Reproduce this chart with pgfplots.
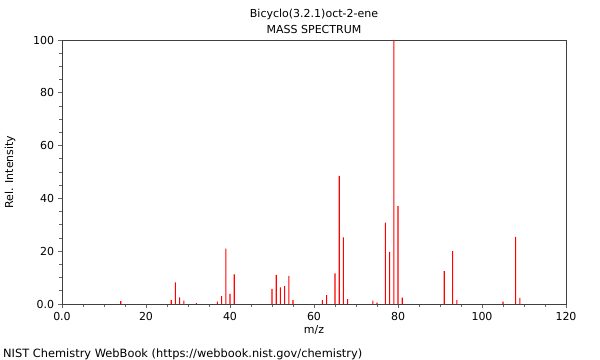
\documentclass[border=0pt]{standalone}
\usepackage{fontspec}
\setmainfont{DejaVu Sans}
\usepackage{pgfplots}
\pgfplotsset{compat=1.18}
\definecolor{specred}{RGB}{255,0,0}
\begin{document}
\fontsize{11bp}{13bp}\selectfont
\begin{tikzpicture}
\useasboundingbox (-62bp,-56bp) rectangle (538bp,304bp);
\begin{axis}[
  at={(0,0)}, anchor=south west,
  width=504bp, height=264bp, scale only axis,
  xmin=0, xmax=120, ymin=0, ymax=100,
  xtick={0,20,...,120}, xticklabels={0.0,20,40,60,80,100,120},
  ytick={0,20,...,100}, yticklabels={0.0,20,40,60,80,100},
  minor x tick num=3, minor y tick num=3,
  tick align=outside, tick pos=left,
  major tick length=4bp, minor tick length=2.5bp,
  axis line style={draw=black!75, line width=0.8bp},
  every tick/.style={draw=black!60, line width=0.8bp},
  tick label style={font=\fontsize{11bp}{13bp}\selectfont},
  /pgf/number format/assume math mode=true,
  xlabel={m/z}, ylabel={Rel. Intensity},
  label style={font=\fontsize{11bp}{13bp}\selectfont},
  xlabel style={at={(axis description cs:0.5,0)}, anchor=north, yshift=-18bp},
  ylabel style={at={(axis description cs:-0.103,0.5)}, anchor=center},
  ybar, bar width=1.1bp, bar shift=0pt,
]
\addplot[fill=specred, draw=none] coordinates {
(14,1.1) (26,1.5) (27,8.2) (28,2.5) (29,1.3) (32,0.3)
(37,0.9) (38,3.0) (39,21.0) (40,3.8) (41,11.2)
(50,5.7) (51,11.0) (52,6.3) (53,6.8) (54,10.7) (55,1.5)
(62,1.5) (63,3.4) (65,11.6) (66,48.5) (67,25.2) (68,1.8)
(74,1.3) (75,0.5) (77,30.8) (78,19.7) (79,100) (80,37.1) (81,2.4)
(91,12.5) (93,20.0) (94,1.5) (105,0.9) (108,25.4) (109,2.3)
};
\end{axis}
\node[anchor=base] at (252bp,286bp) {Bicyclo(3.2.1)oct-2-ene};
\node[anchor=base] at (252bp,270bp) {MASS SPECTRUM};
\node[anchor=base west, inner sep=0pt, font=\fontsize{11.4bp}{13bp}\selectfont] at (-59bp,-53bp) {NIST Chemistry WebBook (https://webbook.nist.gov/chemistry)};
\end{tikzpicture}
\end{document}
